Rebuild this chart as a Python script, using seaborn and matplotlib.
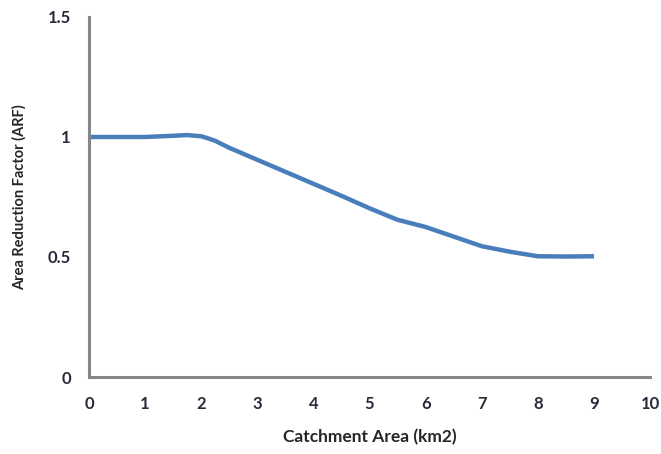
#!/usr/bin/env python3

# Import libraries
import pandas as pd
import matplotlib as mpl
mpl.use("Agg")
import matplotlib.pyplot as plt
import seaborn as sns

# Data
catchment_area = [0, 0.5, 1, 1.5, 1.75, 2, 2.1, 2.25, 2.5, 3, 3.5, 4, 4.5, 5,
                  5.5, 6, 6.5, 7, 7.5, 8, 8.5, 9]
arf = [1.0, 1.0, 1.0, 1.005, 1.008, 1.003, 0.996, 0.984, 0.955, 0.905, 0.855,
       0.805, 0.755, 0.703, 0.655, 0.625, 0.585, 0.545, 0.522, 0.503, 0.502,
       0.503]

x_ticks = list(range(0, 11))
y_ticks = [0, 0.5, 1, 1.5]
y_tick_labels = ["0", "0.5", "1", "1.5"]

df = pd.DataFrame({"Catchment Area (km2)": catchment_area,
                   "Area Reduction Factor (ARF)": arf})


def plot(df):
    sns.set_style("white")
    plt.rcParams["font.family"] = ["Lato", "DejaVu Sans"]

    fig = plt.figure(figsize=(6.61, 4.54), dpi=100)
    ax = fig.add_axes([0.1346, 0.1696, 0.8488, 0.793])

    sns.lineplot(data=df, x="Catchment Area (km2)", y="Area Reduction Factor (ARF)",
                 color="#4A7EBB", linewidth=3.2, ax=ax,
                 solid_capstyle="butt", solid_joinstyle="round")

    ax.set_xlim(0, 10)
    ax.set_ylim(0, 1.5)
    ax.set_xticks(x_ticks)
    ax.set_yticks(y_ticks)
    ax.set_yticklabels(y_tick_labels)

    # Excel-like axes
    for side in ["top", "right"]:
        ax.spines[side].set_visible(False)
    for side in ["left", "bottom"]:
        ax.spines[side].set_color("#868686")
        ax.spines[side].set_linewidth(2.2)
    ax.tick_params(axis="both", direction="out", length=5, width=1.5,
                   color="#868686", labelsize=12, labelcolor="#2a2a3a", pad=8)
    ax.tick_params(axis="x", pad=9)
    for lbl in ax.get_xticklabels() + ax.get_yticklabels():
        lbl.set_fontweight("bold")

    ax.set_xlabel("Catchment Area (km2)", fontsize=12.5, fontweight="bold",
                  color="#262626", labelpad=12)
    ax.set_ylabel("Area Reduction Factor (ARF)", fontsize=10.5, fontweight="bold",
                  color="#262626", labelpad=15)

    fig.savefig("out.png", dpi=100)
    return fig


def main():
    plot(df)


if __name__ == '__main__':
    main()
